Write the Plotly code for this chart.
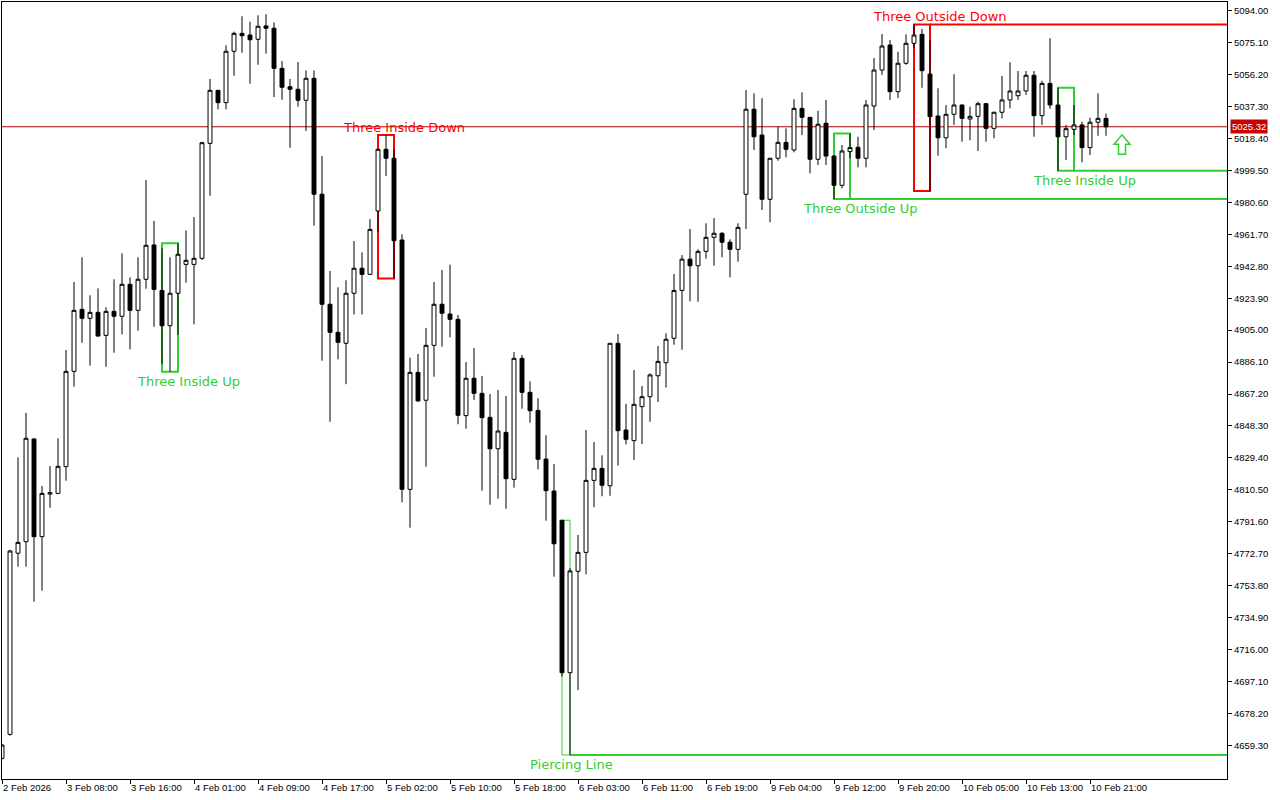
import plotly.graph_objects as go

# === H1 candles, 2 Feb 23:00 .. 10 Feb 22:00 (bar index 0..138) ===
opens = [4651.6, 4665.8, 4773.0, 4779.8, 4840.6, 4782.8, 4808.0, 4808.4, 4824.2, 4880.6,
         4917.3, 4912.0, 4915.5, 4901.9, 4916.1, 4913.2, 4932.1, 4916.7, 4935.1, 4955.4,
         4928.5, 4907.6, 4926.8, 4943.9, 4943.9, 4947.5, 5015.5, 5046.9, 5039.6, 5070.0,
         5080.6, 5079.6, 5077.1, 5085.0, 5083.6, 5059.9, 5049.0, 5047.5, 5041.0, 5054.0,
         4985.4, 4920.3, 4903.7, 4897.2, 4926.8, 4941.6, 4938.0, 4975.5, 5012.0, 5006.7,
         4958.3, 4810.8, 4880.0, 4863.5, 4896.0, 4920.3, 4914.5, 4911.4, 4854.4, 4876.5,
         4867.6, 4853.4, 4834.8, 4844.5, 4816.7, 4888.3, 4868.2, 4857.5, 4828.7, 4809.8,
         4792.5, 4702.3, 4762.3, 4773.5, 4816.1, 4823.2, 4812.9, 4897.2, 4845.9, 4839.6,
         4859.7, 4865.6, 4878.0, 4885.7, 4900.2, 4928.5, 4947.0, 4943.1, 4951.6, 4959.9,
         4962.3, 4957.0, 4952.8, 4985.4, 5035.7, 5020.4, 4982.4, 5006.7, 5016.1, 5011.6,
         5036.2, 5030.9, 5006.1, 5027.4, 5008.0, 4990.7, 5010.6, 5013.2, 5006.7, 5037.6,
         5058.9, 5073.7, 5046.1, 5062.9, 5074.7, 5080.0, 5056.5, 5031.7, 5018.8, 5032.7,
         5038.2, 5029.9, 5031.5, 5039.0, 5024.4, 5033.9, 5041.2, 5043.7, 5046.5, 5055.8,
         5031.9, 5051.0, 5038.2, 5019.4, 5023.8, 5026.4, 5013.0, 5028.0, 5030.3]
highs = [4660.0, 4775.0, 4829.7, 4856.0, 4841.0, 4812.8, 4824.6, 4841.0, 4893.2, 4933.5,
         4948.1, 4925.6, 4929.7, 4918.5, 4935.1, 4950.5, 4936.2, 4948.1, 4993.8, 4969.6,
         4953.4, 4948.1, 4956.4, 4964.0, 4971.9, 5016.5, 5053.6, 5047.0, 5073.5, 5081.6,
         5090.7, 5087.5, 5091.3, 5091.9, 5087.1, 5064.2, 5053.6, 5063.6, 5058.7, 5058.7,
         5008.0, 4940.0, 4930.3, 4934.5, 4957.7, 4951.0, 4970.7, 5012.6, 5020.4, 5012.0,
         4961.7, 4888.7, 4890.9, 4906.3, 4933.5, 4940.6, 4943.7, 4913.9, 4886.1, 4894.4,
         4877.9, 4867.2, 4869.6, 4866.0, 4892.0, 4890.3, 4874.7, 4864.7, 4842.8, 4825.8,
         4792.5, 4764.1, 4783.8, 4845.9, 4838.8, 4830.9, 4897.2, 4902.7, 4861.3, 4881.4,
         4871.9, 4879.4, 4895.6, 4903.1, 4938.2, 4949.4, 4964.8, 4952.8, 4968.2, 4971.3,
         4962.9, 4958.7, 4968.2, 5047.1, 5045.1, 5042.2, 5006.7, 5025.4, 5024.4, 5041.6,
         5045.7, 5031.0, 5034.8, 5041.2, 5008.5, 5014.5, 5021.4, 5019.4, 5041.2, 5066.0,
         5080.2, 5076.7, 5069.7, 5080.0, 5085.9, 5083.2, 5076.7, 5048.1, 5038.2, 5056.4,
         5038.5, 5037.2, 5040.2, 5039.3, 5034.2, 5055.4, 5063.5, 5058.3, 5058.3, 5058.3,
         5052.5, 5077.7, 5048.4, 5026.4, 5038.2, 5028.3, 5030.7, 5045.1, 5033.1]
lows = [4651.0, 4665.0, 4765.0, 4765.0, 4744.3, 4750.8, 4799.9, 4808.0, 4815.9, 4871.5,
        4897.5, 4884.0, 4901.1, 4883.3, 4891.6, 4902.5, 4893.6, 4904.7, 4929.5, 4907.0,
        4885.0, 4880.4, 4902.1, 4933.1, 4908.4, 4946.5, 4984.5, 5035.6, 5035.6, 5055.5,
        5069.1, 5050.8, 5062.0, 5068.6, 5042.9, 5041.3, 5012.9, 5037.2, 5022.8, 4966.8,
        4886.9, 4850.8, 4887.7, 4873.0, 4914.3, 4914.3, 4937.6, 4963.2, 4996.2, 4935.6,
        4803.1, 4788.1, 4862.6, 4824.2, 4877.4, 4895.2, 4900.7, 4849.3, 4846.7, 4863.7,
        4810.0, 4801.7, 4805.3, 4799.3, 4811.8, 4858.5, 4850.2, 4822.6, 4792.2, 4759.1,
        4700.0, 4653.6, 4692.0, 4760.5, 4800.2, 4806.7, 4807.0, 4824.8, 4837.4, 4828.2,
        4837.6, 4850.8, 4862.5, 4871.0, 4896.4, 4893.4, 4922.0, 4921.8, 4947.2, 4943.1,
        4948.1, 4936.2, 4945.5, 4964.8, 5011.6, 4976.1, 4968.8, 5005.2, 5007.3, 5010.2,
        5020.4, 4997.8, 5002.7, 5002.7, 4982.6, 4988.9, 5006.7, 5001.3, 5001.3, 5023.4,
        5056.0, 5041.2, 5042.3, 5062.0, 5071.7, 5048.4, 4987.3, 5008.2, 5012.6, 5026.4,
        5016.5, 5017.3, 5011.0, 5016.5, 5018.5, 5030.3, 5036.2, 5041.2, 5044.1, 5019.4,
        5026.4, 5036.0, 4999.3, 5005.7, 5020.4, 5004.3, 5008.6, 5020.0, 5020.0]
closes = [4659.5, 4774.3, 4779.4, 4841.0, 4782.8, 4808.4, 4808.8, 4824.4, 4880.6, 4916.7,
          4912.0, 4915.5, 4901.5, 4916.1, 4913.2, 4932.1, 4916.7, 4935.1, 4955.2, 4929.1,
          4907.6, 4926.8, 4949.9, 4946.3, 4947.5, 5015.9, 5046.9, 5039.6, 5070.0, 5080.6,
          5079.2, 5076.8, 5084.8, 5083.6, 5059.9, 5048.7, 5047.5, 5041.0, 5054.0, 4985.4,
          4920.3, 4903.7, 4897.8, 4926.8, 4941.6, 4938.0, 4964.6, 5012.0, 5006.7, 4957.9,
          4810.8, 4880.0, 4863.1, 4896.0, 4920.3, 4915.0, 4911.4, 4854.6, 4876.5, 4867.6,
          4853.2, 4834.8, 4845.3, 4817.1, 4888.3, 4868.2, 4857.3, 4828.6, 4810.0, 4778.6,
          4702.3, 4762.5, 4773.5, 4816.1, 4823.2, 4813.2, 4897.2, 4845.5, 4840.4, 4861.1,
          4865.6, 4878.5, 4886.5, 4899.6, 4928.5, 4947.0, 4943.1, 4951.6, 4959.9, 4962.3,
          4957.0, 4952.8, 4965.8, 5035.7, 5019.4, 4982.4, 5006.7, 5016.1, 5012.0, 5036.2,
          5030.9, 5006.1, 5026.8, 5008.0, 4990.7, 5011.0, 5013.0, 5006.7, 5038.2, 5058.9,
          5073.1, 5046.1, 5062.9, 5074.7, 5079.6, 5058.5, 5031.3, 5018.8, 5032.7, 5038.2,
          5030.3, 5031.5, 5039.0, 5024.4, 5033.9, 5041.2, 5046.5, 5046.5, 5055.8, 5031.9,
          5051.0, 5038.2, 5019.4, 5024.2, 5026.4, 5013.0, 5028.0, 5030.3, 5025.32]
bars = list(range(len(opens)))

# === Axis labels ===
time_tick_bars = [0, 8, 16, 24, 32, 40, 48, 56, 64, 72, 80, 88, 96, 104, 112, 120, 128, 136]
time_tick_labels = ["2 Feb 2026", "3 Feb 08:00", "3 Feb 16:00", "4 Feb 01:00", "4 Feb 09:00",
                    "4 Feb 17:00", "5 Feb 02:00", "5 Feb 10:00", "5 Feb 18:00", "6 Feb 03:00",
                    "6 Feb 11:00", "6 Feb 19:00", "9 Feb 04:00", "9 Feb 12:00", "9 Feb 20:00",
                    "10 Feb 05:00", "10 Feb 13:00", "10 Feb 21:00"]
price_ticks = [5094.00, 5075.10, 5056.20, 5037.30, 5018.40, 4999.50, 4980.60, 4961.70,
               4942.80, 4923.90, 4905.00, 4886.10, 4867.20, 4848.30, 4829.40, 4810.50,
               4791.60, 4772.70, 4753.80, 4734.90, 4716.00, 4697.10, 4678.20, 4659.30]

# === Detected candle patterns ===
pat_names = ["Three Inside Up", "Three Inside Down", "Piercing Line",
             "Three Outside Up", "Three Outside Down", "Three Inside Up"]
pat_first = [20, 47, 70, 104, 114, 132]
pat_last = [22, 49, 71, 106, 116, 134]
pat_bullish = [True, False, True, True, False, True]
pat_level_kept = [False, False, True, True, True, True]   # level line still running

signal_bar = 140          # next-bar buy arrow
signal_price = 5009.0
last_price = closes[-1]

GREEN = "#32CD32"
RED = "#FF0000"
X_MAX = 153.125

fig = go.Figure()
fig.add_trace(go.Candlestick(
    x=bars, open=opens, high=highs, low=lows, close=closes,
    increasing=dict(line=dict(color="black", width=1), fillcolor="white"),
    decreasing=dict(line=dict(color="black", width=1), fillcolor="black"),
    whiskerwidth=0, hoverinfo="skip", showlegend=False))

# current price line
fig.add_shape(type="line", xref="paper", x0=0, x1=1, yref="y", y0=last_price, y1=last_price,
              line=dict(color="#B00000", width=1), layer="below")
fig.add_annotation(xref="paper", x=1, yref="y", y=last_price, text=f"{last_price:.2f}",
                   showarrow=False, xanchor="left", xshift=3, bgcolor="#C80000", borderpad=1,
                   font=dict(family="Liberation Sans", size=9.5, color="white"))

for name, a, b, bull, kept in zip(pat_names, pat_first, pat_last, pat_bullish, pat_level_kept):
    top = max(highs[a:b + 1])
    bot = min(lows[a:b + 1])
    col = GREEN if bull else RED
    two_bar = (b - a) == 1
    fig.add_shape(type="rect", x0=a, x1=b, y0=bot, y1=top, layer="below",
                  line=dict(color=col, width=1 if two_bar else 2), fillcolor="rgba(0,0,0,0)")
    if kept:
        lvl = bot if bull else top
        fig.add_shape(type="line", x0=b, x1=X_MAX, y0=lvl, y1=lvl, layer="below",
                      line=dict(color=col, width=2))
    lx = b + (0.2 if two_bar else 1.25)
    fig.add_annotation(x=lx, y=bot if bull else top, text=name, showarrow=False,
                       xanchor="center", yanchor="top" if bull else "bottom",
                       yshift=0 if bull else -2,
                       font=dict(family="DejaVu Sans", size=13, color=col))

# buy arrow (hollow block arrow)
fig.add_shape(type="path", xref="x", yref="y", xsizemode="pixel", ysizemode="pixel",
              xanchor=signal_bar, yanchor=signal_price,
              path="M -3.5,0 L 3.5,0 L 3.5,10 L 8,10 L 0,19.5 L -8,10 L -3.5,10 Z",
              line=dict(color=GREEN, width=1.5), fillcolor="rgba(0,0,0,0)")

axis_font = dict(family="Liberation Sans", size=9.5, color="black")
fig.update_layout(
    width=1280, height=800,
    margin=dict(l=2, r=53, t=2, b=21),
    paper_bgcolor="white", plot_bgcolor="white",
    boxgap=0.3, boxgroupgap=0.3,
    showlegend=False,
    xaxis=dict(range=[0, X_MAX], tickmode="array", tickvals=time_tick_bars,
               ticktext=time_tick_labels, ticks="outside", ticklen=4, tickcolor="black",
               ticklabelposition="outside right", tickangle=0, tickfont=axis_font,
               automargin=False,
               showline=True, linecolor="black", linewidth=1, mirror=True,
               showgrid=False, zeroline=False, rangeslider=dict(visible=False)),
    yaxis=dict(range=[4639.4, 5099.15], side="right", tickmode="array", tickvals=price_ticks,
               ticktext=[f"{v:.2f}" for v in price_ticks], ticks="outside", ticklen=4,
               tickcolor="black", tickfont=axis_font, automargin=False,
               showline=True, linecolor="black", linewidth=1, mirror=True,
               showgrid=False, zeroline=False),
)

fig.write_html("out.html", config={"displayModeBar": False},
               post_script="document.body.style.margin='0';")
